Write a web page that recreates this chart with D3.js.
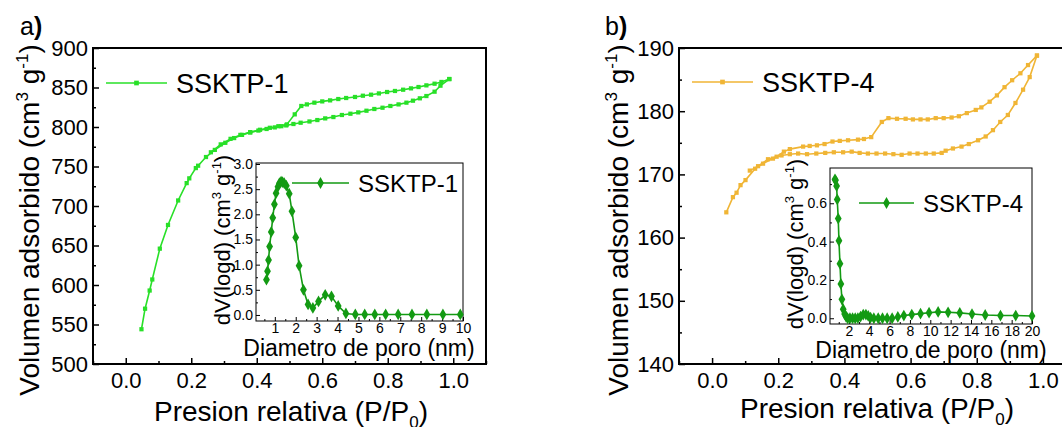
<!DOCTYPE html>
<html>
<head>
<meta charset="utf-8">
<script src="https://cdn.jsdelivr.net/npm/d3@7"></script>
<style>
  body { margin: 0; background: #fff; }
  svg { display: block; font-family: "Liberation Sans", Arial, sans-serif; }
</style>
</head>
<body>
<svg id="chart" width="1062" height="427"></svg>
<script>
// ---- data ----
// panel a: SSKTP-1 isotherm (P/P0, cm3 g-1)
var adsA_x = [0.048, 0.059, 0.073, 0.081, 0.104, 0.129, 0.16, 0.186, 0.194, 0.214, 0.221, 0.245, 0.272, 0.304, 0.331, 0.355, 0.38, 0.405, 0.43, 0.455, 0.475, 0.49, 0.512, 0.534, 0.561, 0.585, 0.609, 0.634, 0.66, 0.686, 0.71, 0.735, 0.759, 0.784, 0.808, 0.833, 0.857, 0.877, 0.898, 0.918, 0.943, 0.961, 0.988];
var adsA_y = [544, 570, 593, 607, 646, 676, 707, 729, 735, 748, 751, 762, 771, 780, 786, 790, 793, 795.5, 797.5, 799.5, 801, 802, 803.8, 805.4, 807, 808.8, 810.9, 812.6, 815.2, 816.8, 818.5, 820.6, 822.8, 824.4, 826.6, 828.6, 830.8, 833.3, 836.3, 839.2, 844.7, 852.3, 860.7];
var desA_x = [0.988, 0.964, 0.943, 0.918, 0.894, 0.871, 0.847, 0.822, 0.798, 0.773, 0.749, 0.724, 0.70, 0.673, 0.649, 0.624, 0.60, 0.576, 0.553, 0.536, 0.516, 0.492, 0.466, 0.44, 0.41, 0.38, 0.35, 0.32, 0.29, 0.26];
var desA_y = [860.7, 857, 854.8, 852.7, 850.6, 848.9, 847.2, 845.6, 844.3, 842.5, 840.9, 839.6, 838, 836.7, 835.4, 833.7, 832.4, 830.8, 828.6, 826.6, 816, 803.3, 801, 799, 796.5, 793.5, 790, 785, 778, 768];

// inset a: pore size distribution SSKTP-1 (nm, dV(logd))
var psdA_x = [0.6, 0.65, 0.7, 0.75, 0.83, 0.9, 0.98, 1.06, 1.15, 1.22, 1.3, 1.37, 1.45, 1.55, 1.69, 1.82, 2.0, 2.16, 2.37, 2.59, 2.82, 3.09, 3.41, 3.71, 4.03, 4.4, 4.85, 5.3, 5.78, 6.3, 6.9, 7.56, 8.27, 9.04, 9.87];
var psdA_y = [0.70, 0.87, 1.09, 1.36, 1.65, 1.93, 2.2, 2.42, 2.55, 2.62, 2.65, 2.64, 2.62, 2.57, 2.41, 2.06, 1.54, 0.98, 0.50, 0.21, 0.14, 0.27, 0.40, 0.37, 0.18, 0.03, 0.01, 0.01, 0.01, 0.01, 0.01, 0.01, 0.01, 0.01, 0.01];

// panel b: SSKTP-4 isotherm
var adsB_x = [0.043, 0.063, 0.074, 0.086, 0.101, 0.13, 0.154, 0.184, 0.21, 0.235, 0.26, 0.287, 0.315, 0.342, 0.368, 0.396, 0.422, 0.446, 0.471, 0.497, 0.523, 0.548, 0.573, 0.597, 0.621, 0.646, 0.67, 0.694, 0.706, 0.728, 0.754, 0.776, 0.804, 0.827, 0.849, 0.871, 0.894, 0.917, 0.94, 0.96, 0.982];
var adsB_y = [164.0, 166.4, 167.1, 168.3, 169.1, 170.9, 171.7, 172.5, 173.0, 173.2, 173.3, 173.2, 173.3, 173.4, 173.5, 173.5, 173.6, 173.4, 173.3, 173.3, 173.3, 173.2, 173.1, 173.3, 173.3, 173.3, 173.3, 173.4, 173.75, 174.1, 174.4, 174.8, 175.4, 176.0, 177.0, 178.3, 179.4, 181.3, 183.4, 185.4, 188.8];
var desB_x = [0.982, 0.955, 0.932, 0.907, 0.884, 0.861, 0.839, 0.814, 0.797, 0.77, 0.746, 0.724, 0.70, 0.676, 0.652, 0.63, 0.607, 0.585, 0.559, 0.533, 0.513, 0.481, 0.459, 0.441, 0.411, 0.386, 0.364, 0.34, 0.317, 0.295, 0.275, 0.235, 0.217, 0.195, 0.169, 0.139, 0.114];
var desB_y = [188.8, 187.3, 186.0, 184.9, 183.8, 182.5, 181.5, 180.6, 180.2, 179.7, 179.2, 179.0, 178.9, 178.9, 178.7, 178.7, 178.7, 178.8, 178.8, 178.9, 178.3, 175.9, 175.6, 175.5, 175.4, 175.3, 175.2, 174.8, 174.6, 174.5, 174.4, 174.0, 173.6, 172.8, 172.4, 171.3, 170.6];

// inset b: pore size distribution SSKTP-4
var psdB_x = [0.63, 0.68, 0.79, 0.85, 0.95, 1.02, 1.12, 1.21, 1.31, 1.44, 1.58, 1.71, 1.87, 2.1, 2.36, 2.62, 2.88, 3.15, 3.41, 3.67, 3.9, 4.13, 4.45, 4.88, 5.3, 5.76, 6.25, 6.81, 7.4, 8.18, 9.04, 9.88, 10.77, 11.75, 12.9, 14.1, 15.4, 16.9, 18.4, 20.0];
var psdB_y = [0.725, 0.72, 0.69, 0.62, 0.52, 0.405, 0.285, 0.179, 0.099, 0.047, 0.022, 0.009, 0.0, 0.0, 0.0, 0.0, 0.001, 0.009, 0.019, 0.019, 0.012, 0.003, 0.0, 0.0, 0.0, 0.0, 0.0, 0.007, 0.014, 0.019, 0.024, 0.029, 0.033, 0.031, 0.028, 0.022, 0.017, 0.014, 0.014, 0.012];

// ticks
var mainXTicks = [0.0, 0.2, 0.4, 0.6, 0.8, 1.0];
var mainXMinor = [-0.1, 0.1, 0.3, 0.5, 0.7, 0.9, 1.1];
var aYTicks = [500, 550, 600, 650, 700, 750, 800, 850, 900];
var bYTicks = [140, 150, 160, 170, 180, 190];
var insAXTicks = [1, 2, 3, 4, 5, 6, 7, 8, 9, 10];
var insAYTicks = [0.0, 0.5, 1.0, 1.5, 2.0, 2.5, 3.0];
var insBXTicks = [2, 4, 6, 8, 10, 12, 14, 16, 18, 20];
var insBYTicks = [0.0, 0.2, 0.4, 0.6];

var GREEN = "#28e028", DKGREEN = "#139a13", ORANGE = "#f0b535";

var svg = d3.select("#chart");

function zip(xs, ys) { return xs.map(function(x, i) { return [x, ys[i]]; }); }

// draws a framed plot area with inward ticks
function drawAxes(g, x, y, o) {
  var x0 = x.range()[0], x1 = x.range()[1], y0 = y.range()[0], y1 = y.range()[1];
  g.append("g").attr("transform", "translate(0," + y0 + ")")
    .call(d3.axisBottom(x).tickValues(o.xMinor).tickSizeInner(-o.minor).tickSizeOuter(0).tickFormat(""))
    .call(function(s) { s.select(".domain").remove(); });
  g.append("g").attr("transform", "translate(0," + y0 + ")")
    .call(d3.axisBottom(x).tickValues(o.xTicks).tickSizeInner(-o.major).tickSizeOuter(0).tickPadding(o.xPad).tickFormat(o.xFmt))
    .call(function(s) {
      s.select(".domain").remove();
      s.selectAll("text").attr("font-size", o.font).attr("font-family", "Liberation Sans, Arial, sans-serif").attr("fill", "#000");
    });
  g.append("g").attr("transform", "translate(" + x0 + ",0)")
    .call(d3.axisLeft(y).tickValues(o.yMinor).tickSizeInner(-o.minor).tickSizeOuter(0).tickFormat(""))
    .call(function(s) { s.select(".domain").remove(); });
  g.append("g").attr("transform", "translate(" + x0 + ",0)")
    .call(d3.axisLeft(y).tickValues(o.yTicks).tickSizeInner(-o.major).tickSizeOuter(0).tickPadding(o.yPad).tickFormat(o.yFmt))
    .call(function(s) {
      s.select(".domain").remove();
      s.selectAll("text").attr("font-size", o.font).attr("font-family", "Liberation Sans, Arial, sans-serif").attr("fill", "#000");
    });
  g.selectAll(".tick line").attr("stroke", "#000").attr("stroke-width", o.tickW);
  g.append("rect").attr("x", x0).attr("y", y1).attr("width", x1 - x0).attr("height", y0 - y1)
    .attr("fill", "none").attr("stroke", "#000").attr("stroke-width", o.frameW);
}

function drawSeries(g, x, y, pts, color, sym, size, lw) {
  var line = d3.line().x(function(d) { return x(d[0]); }).y(function(d) { return y(d[1]); });
  g.append("path").attr("d", line(pts)).attr("fill", "none").attr("stroke", color).attr("stroke-width", lw);
  g.selectAll(null).data(pts).enter().append("path")
    .attr("d", d3.symbol().type(sym).size(size))
    .attr("transform", function(d) { return "translate(" + x(d[0]) + "," + y(d[1]) + ")"; })
    .attr("fill", color);
}

function legend(g, x1, x2, yy, color, sym, size, label, fs) {
  g.append("line").attr("x1", x1).attr("x2", x2).attr("y1", yy).attr("y2", yy).attr("stroke", color).attr("stroke-width", 1.5);
  g.append("path").attr("d", d3.symbol().type(sym).size(size)()).attr("transform", "translate(" + ((x1 + x2) / 2) + "," + yy + ")").attr("fill", color);
  g.append("text").attr("x", x2 + 9).attr("y", yy).attr("dy", "0.36em").attr("font-size", fs).text(label);
}

function yTitle(g, cx, cy, fs, main) {
  var t = g.append("text").attr("transform", "translate(" + cx + "," + cy + ") rotate(-90)")
    .attr("text-anchor", "middle").attr("font-size", fs).attr("dy", "0.35em");
  var s = Math.round(fs * 0.6), up = Math.round(fs * 0.4);
  t.append("tspan").text(main + " (cm");
  t.append("tspan").attr("font-size", s).attr("dy", -up).text("3");
  t.append("tspan").attr("dy", up).text(" g");
  t.append("tspan").attr("font-size", s).attr("dy", -up).text("-1");
  t.append("tspan").attr("dy", up).text(")");
}

function xTitleP(g, cx, by, fs) {
  var t = g.append("text").attr("x", cx).attr("y", by).attr("text-anchor", "middle").attr("font-size", fs);
  t.append("tspan").text("Presion relativa (P/P");
  t.append("tspan").attr("font-size", Math.round(fs * 0.6)).attr("dy", 7).text("0");
  t.append("tspan").attr("dy", -7).text(")");
}

function panelLabel(g, x, y, ch) {
  var t = g.append("text").attr("x", x).attr("y", y).attr("font-size", 25);
  t.append("tspan").text(ch);
  t.append("tspan").attr("font-weight", "bold").text(")");
}

var f1 = d3.format(".1f"), f0 = d3.format("d");

// ---------------- panel a ----------------
var ga = svg.append("g");
var xa = d3.scaleLinear().domain([-0.1, 1.1]).range([93, 486]);
var ya = d3.scaleLinear().domain([500, 900]).range([364, 48]);
drawAxes(ga, xa, ya, { xTicks: mainXTicks, xMinor: mainXMinor, yTicks: aYTicks,
  yMinor: d3.range(525, 900, 50), major: 6, minor: 3, font: 22, xPad: 8, yPad: 5,
  xFmt: f1, yFmt: f0, tickW: 1.5, frameW: 2 });
drawSeries(ga, xa, ya, zip(adsA_x, adsA_y), GREEN, d3.symbolSquare, 18, 1.6);
drawSeries(ga, xa, ya, zip(desA_x, desA_y), GREEN, d3.symbolSquare, 18, 1.6);
legend(ga, 106, 167, 83, GREEN, d3.symbolSquare, 22, "SSKTP-1", 27);
yTitle(ga, 29, 220, 28, "Volumen adsorbido");
xTitleP(ga, 291, 421, 28);
panelLabel(ga, 20, 35, "a");

// inset a
var xia = d3.scaleLinear().domain([0.1, 10]).range([256, 463]);
var yia = d3.scaleLinear().domain([-0.12, 3.02]).range([321, 163]);
var gia = svg.append("g");
gia.append("rect").attr("x", 256).attr("y", 163).attr("width", 207).attr("height", 158).attr("fill", "#fff");
drawAxes(gia, xia, yia, { xTicks: insAXTicks, xMinor: d3.range(0.5, 10, 1), yTicks: insAYTicks,
  yMinor: d3.range(0.25, 3, 0.5), major: 4, minor: 2, font: 14, xPad: 2, yPad: 3,
  xFmt: f0, yFmt: f1, tickW: 1, frameW: 1 });
drawSeries(gia, xia, yia, zip(psdA_x, psdA_y), DKGREEN, d3.symbolDiamond, 40, 1.6);
legend(gia, 292, 349, 183, DKGREEN, d3.symbolDiamond, 40, "SSKTP-1", 24);
yTitle(gia, 222, 240, 22, "dV(logd)");
gia.append("text").attr("x", 359).attr("y", 356).attr("text-anchor", "middle").attr("font-size", 23).text("Diametro de poro (nm)");

// ---------------- panel b ----------------
var gb = svg.append("g");
var xb = d3.scaleLinear().domain([-0.1, 1.1]).range([679, 1076]);
var yb = d3.scaleLinear().domain([140, 190]).range([364, 48]);
drawAxes(gb, xb, yb, { xTicks: mainXTicks, xMinor: mainXMinor, yTicks: bYTicks,
  yMinor: d3.range(145, 190, 10), major: 6, minor: 3, font: 22, xPad: 8, yPad: 5,
  xFmt: f1, yFmt: f0, tickW: 1.5, frameW: 2 });
drawSeries(gb, xb, yb, zip(adsB_x, adsB_y), ORANGE, d3.symbolSquare, 18, 1.6);
drawSeries(gb, xb, yb, zip(desB_x, desB_y), ORANGE, d3.symbolSquare, 18, 1.6);
legend(gb, 692, 753, 82, ORANGE, d3.symbolSquare, 22, "SSKTP-4", 27);
yTitle(gb, 618, 220, 28, "Volumen adsorbido");
xTitleP(gb, 877, 418, 28);
panelLabel(gb, 605, 35, "b");

// inset b
var xib = d3.scaleLinear().domain([0.14, 20]).range([830, 1032]);
var yib = d3.scaleLinear().domain([-0.03, 0.784]).range([324, 168]);
var gib = svg.append("g");
gib.append("rect").attr("x", 830).attr("y", 168).attr("width", 202).attr("height", 156).attr("fill", "#fff");
drawAxes(gib, xib, yib, { xTicks: insBXTicks, xMinor: d3.range(1, 20, 2), yTicks: insBYTicks,
  yMinor: [0.1, 0.3, 0.5, 0.7], major: 4, minor: 2, font: 14, xPad: 2, yPad: 3,
  xFmt: f0, yFmt: f1, tickW: 1, frameW: 1 });
drawSeries(gib, xib, yib, zip(psdB_x, psdB_y), DKGREEN, d3.symbolDiamond, 40, 1.6);
legend(gib, 859, 914, 203, DKGREEN, d3.symbolDiamond, 40, "SSKTP-4", 24);
yTitle(gib, 795, 244, 22, "dV(logd)");
gib.append("text").attr("x", 931).attr("y", 358).attr("text-anchor", "middle").attr("font-size", 23).text("Diametro de poro (nm)");
</script>
</body>
</html>
